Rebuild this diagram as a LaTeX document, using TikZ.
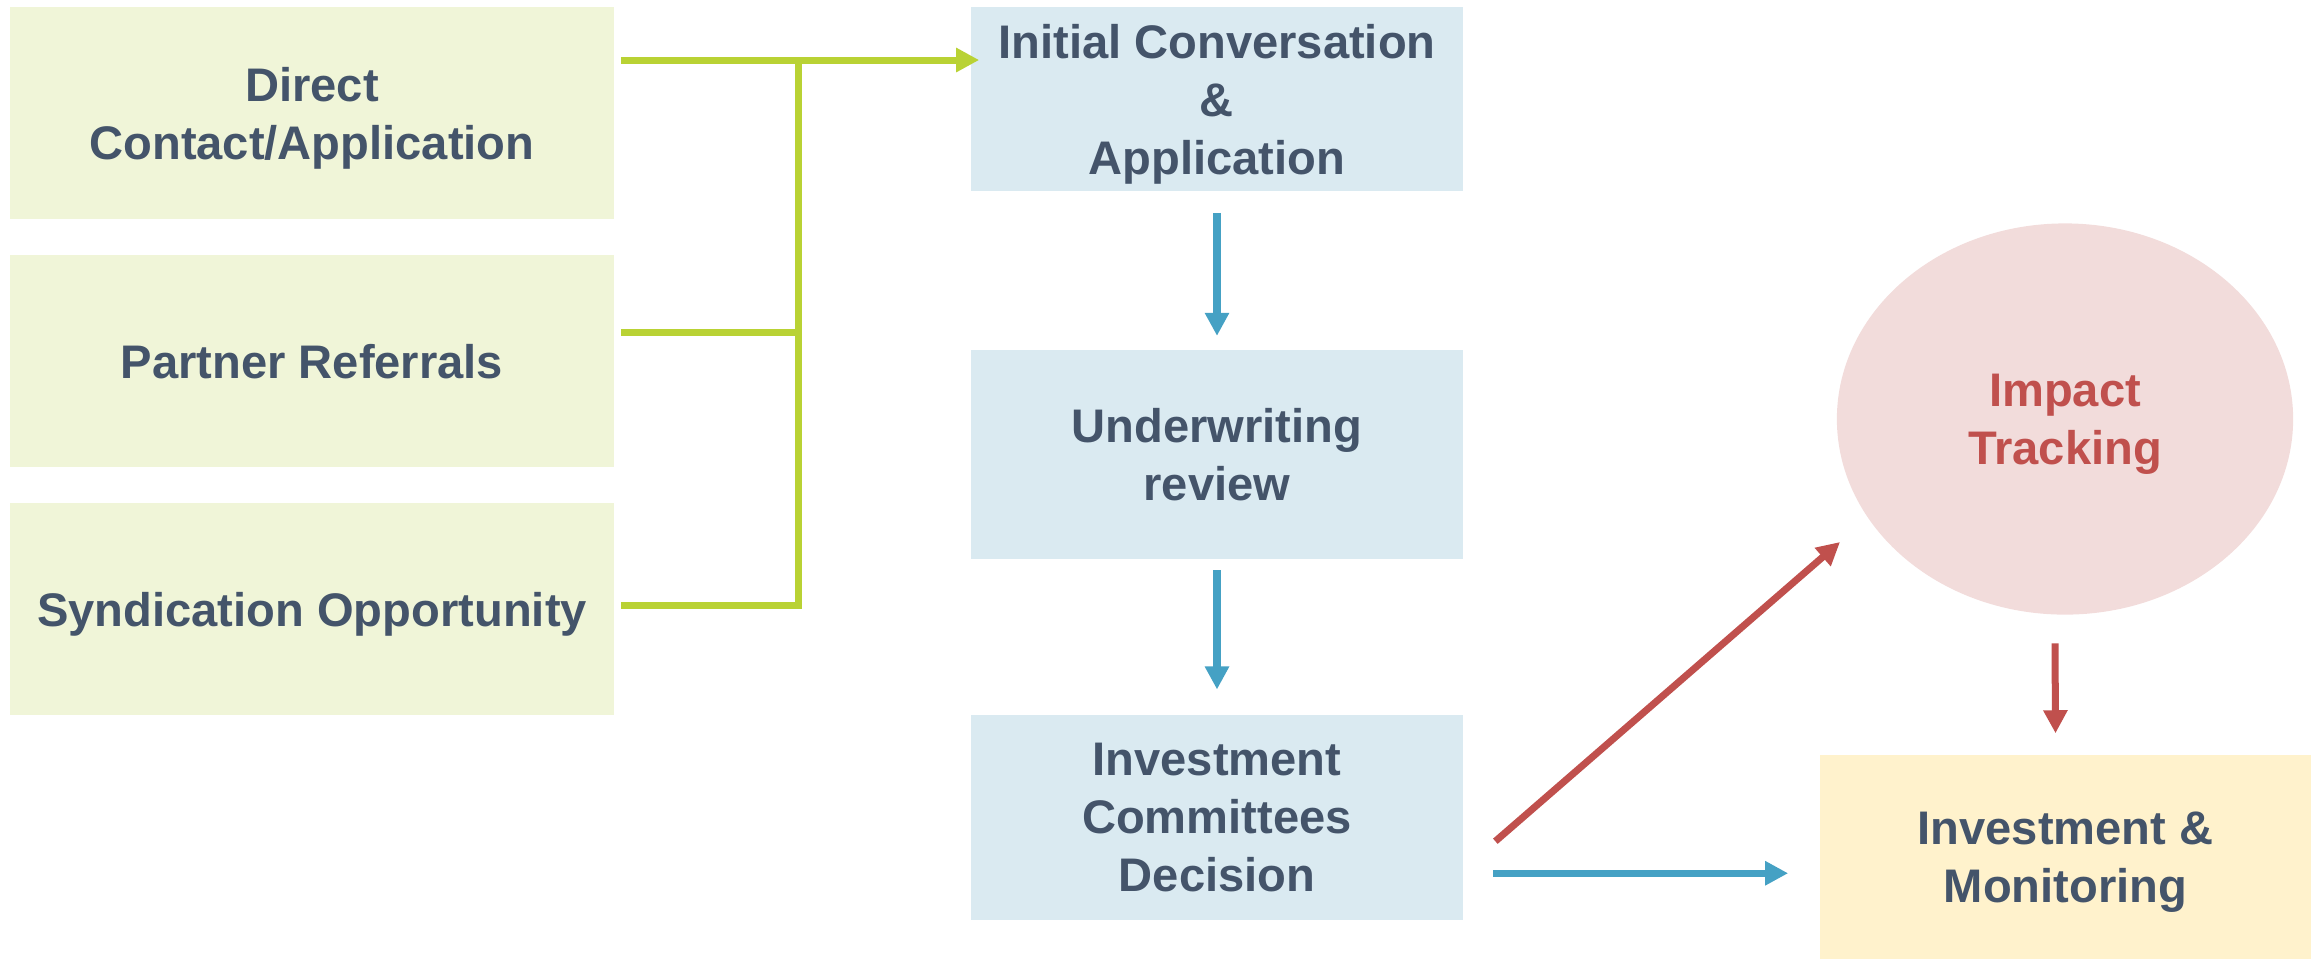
\documentclass[tikz,border=0pt]{standalone}
\usepackage{fontspec}
\setmainfont{Liberation Sans}
\usetikzlibrary{positioning, arrows.meta, shapes.geometric, calc}
\usepackage{xcolor}
\definecolor{sourcefill}{HTML}{F0F5D8}
\definecolor{stagefill}{HTML}{DAEAF1}
\definecolor{trackfill}{HTML}{F2DCDB}
\definecolor{monitorfill}{HTML}{FFF2CC}
\definecolor{flowtext}{HTML}{44546A}
\definecolor{feedgreen}{HTML}{B9D234}
\definecolor{stageblue}{HTML}{45A1C4}
\definecolor{trackred}{HTML}{C0504D}
\newcommand{\FlowSources}{{Partner Referrals},{Syndication Opportunity}}
\newcommand{\FlowTip}{Triangle[length=0.23cm,width=0.23cm]}

\begin{document}
\begin{tikzpicture}[
	x=0.01cm, y=-0.01cm,
	flow text/.style={
		font=\fontsize{13.4pt}{16.5pt}\selectfont\bfseries,
		text=flowtext,
		align=center,
		text depth=0pt,
		inner sep=0
	},
	source box/.style={
		flow text,
		fill=sourcefill,
		minimum width=6.04cm,
		minimum height=2.12cm,
		node distance=0.345cm
	},
	stage box/.style={
		flow text,
		fill=stagefill,
		minimum width=4.91cm
	},
	feed line/.style={
		draw=feedgreen,
		line width=0.07cm
	},
	stage arrow/.style={
		-{\FlowTip},
		draw=stageblue,
		line width=0.075cm
	},
	track arrow/.style={
		-{\FlowTip},
		draw=trackred,
		line width=0.07cm
	}
]
	\useasboundingbox (0,0) rectangle (2318,959);
	\node[source box] (source 1) at (312,113) {Direct\\Contact/Application};
	\foreach \l [count=\p from 2, remember=\p as \prevP (initially 1)] in \FlowSources {
		\node[source box, below=of source \prevP] (source \p) {\l};
	};
	\node[stage box, minimum height=1.84cm] (initial) at (1217,99) {Initial Conversation\\\&\\Application};
	\node[stage box, minimum height=2.09cm, below=1.57cm of initial] (review) {Underwriting\\review};
	\node[stage box, minimum height=2.05cm, below=1.55cm of review] (decision) {Investment\\Committees\\Decision};
	\node[flow text, ellipse, fill=trackfill, text=trackred, minimum width=4.56cm, minimum height=3.91cm] (tracking) at (2065,419) {Impact\\Tracking};
	\node[flow text, fill=monitorfill, minimum width=4.91cm, minimum height=2.04cm] (monitoring) at (2065.5,857) {Investment \&\\Monitoring};

	\coordinate (bus top) at (798,60);
	\coordinate (bus mid) at (798,332);
	\coordinate (bus bottom) at (798,605);
	\coordinate (decision out) at ([shift={(30,55.5)}]decision.east);
	\draw[feed line, line cap=rect] (bus top) -- (bus bottom);
	\draw[feed line, -{\FlowTip}, shorten <=0.06cm, shorten >=-0.085cm] (source 1.east |- bus top) -- (initial.west |- bus top);
	\draw[feed line, shorten <=0.06cm] (source 2.east |- bus mid) -- (bus mid);
	\draw[feed line, shorten <=0.06cm] (source 3.east |- bus bottom) -- (bus bottom);

	\draw[stage arrow, shorten <=0.21cm, shorten >=0.13cm] (initial.south) -- (review.north);
	\draw[stage arrow, shorten <=0.11cm, shorten >=0.25cm] (review.south) -- (decision.north);
	\draw[stage arrow, shorten >=0.31cm] (decision out) -- (monitoring.west |- decision out);
	\draw[track arrow] ([shift={(32,23.5)}]decision.east) -- ([shift={(-225,123)}]tracking.center);
	\draw[track arrow] ([shift={(-10,28)}]tracking.south) -- ([shift={(-10,-21)}]monitoring.north);
\end{tikzpicture}
\end{document}
